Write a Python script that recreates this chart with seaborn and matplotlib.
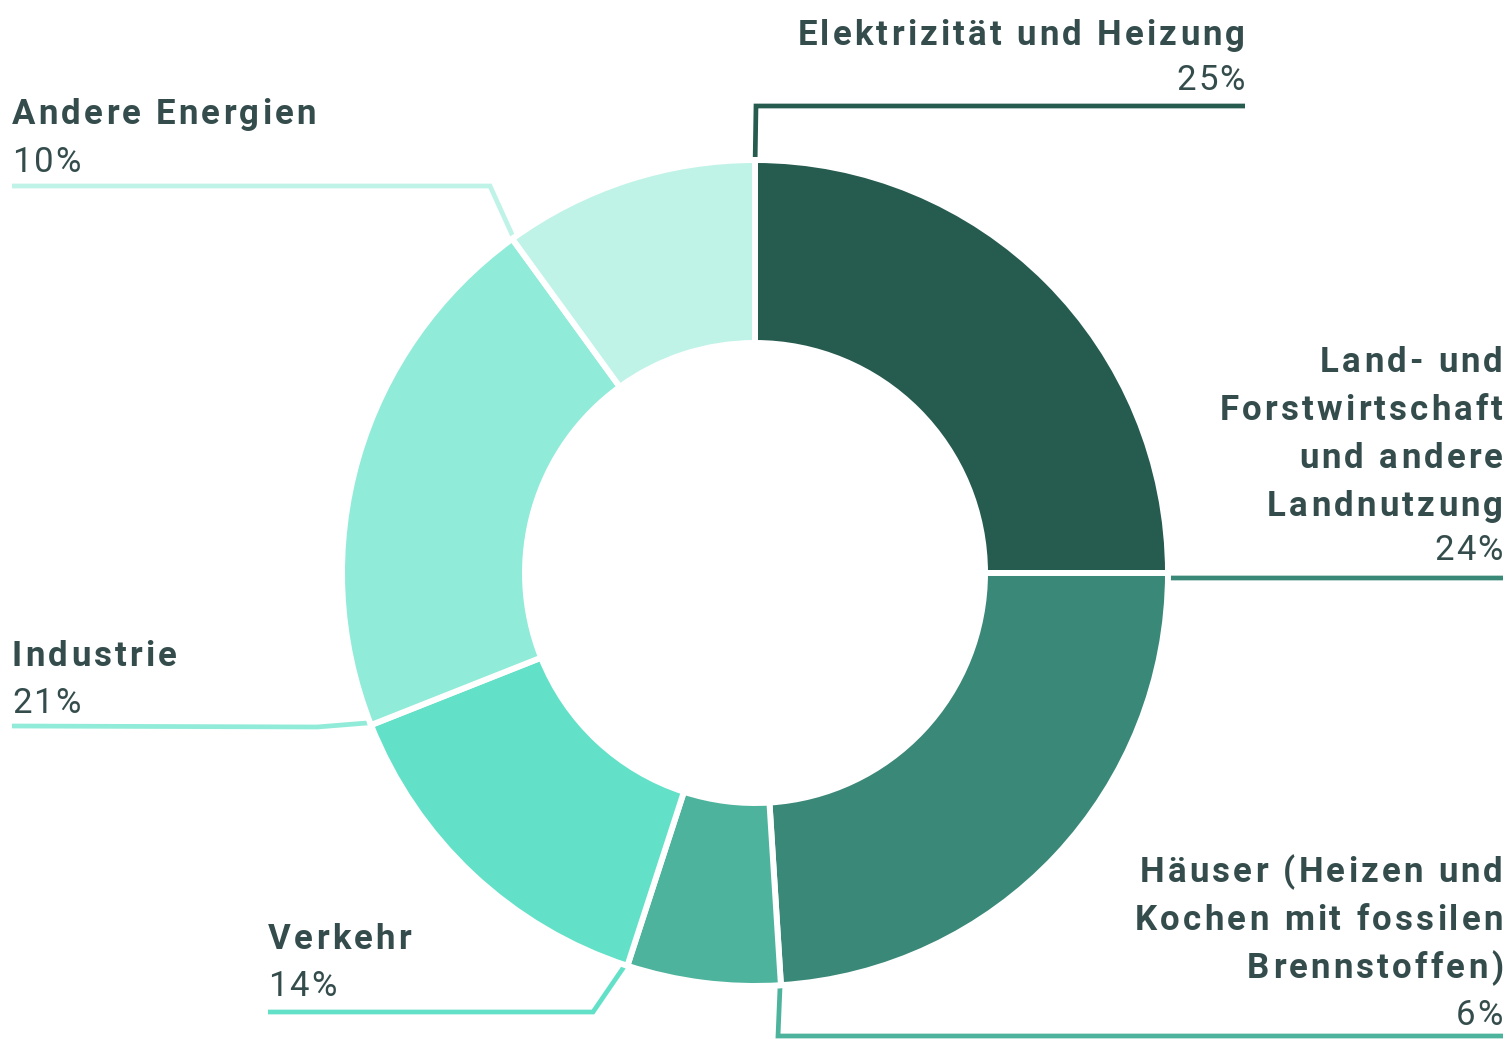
import numpy as np
import matplotlib
matplotlib.use("Agg")
import matplotlib.pyplot as plt
from matplotlib.font_manager import FontProperties
import seaborn as sns

# data, clockwise from the top
categories = [
    "Elektrizität und Heizung",
    "Land- und Forstwirtschaft und andere Landnutzung",
    "Häuser (Heizen und Kochen mit fossilen Brennstoffen)",
    "Verkehr",
    "Industrie",
    "Andere Energien",
]
shares = [25, 24, 6, 14, 21, 10]
pct_labels = ["25%", "24%", "6%", "14%", "21%", "10%"]
label_lines = [
    ["Elektrizität und Heizung"],
    ["Land- und", "Forstwirtschaft", "und andere", "Landnutzung"],
    ["Häuser (Heizen und", "Kochen mit fossilen", "Brennstoffen)"],
    ["Verkehr"],
    ["Industrie"],
    ["Andere Energien"],
]
colors = ["#265B4F", "#3A8878", "#4DB39D", "#63E1C8", "#90EBD8", "#C0F3E7"]

TEXT = "#344D4C"
W, H = 1507, 1039
CX, CY, R_OUT, R_IN = 755, 573, 413, 230
FS = 25

# label layout (pixel coords, y down): x anchor, align, first baseline, pct baseline
label_pos = [
    (1245, "right", 45, 90),
    (1503, "right", 372, 560),
    (1503, "right", 882, 1025),
    (268, "left", 949, 996),
    (12, "left", 666, 713),
    (12, "left", 124, 172),
]
# leader line elbow and end points
leader_pts = [
    [(756, 106), (1245, 106)],
    [(1166, 578), (1503, 578)],
    [(778, 1036), (1503, 1036)],
    [(593, 1012), (268, 1012)],
    [(317, 727), (12, 726)],
    [(490, 186), (12, 186)],
]

sns.set_theme(style="white")
plt.rcParams["font.family"] = ["Roboto", "DejaVu Sans"]
palette = sns.color_palette(colors)

fig = plt.figure(figsize=(W / 100, H / 100), dpi=100)
ax = fig.add_axes([0, 0, 1, 1])
renderer = fig.canvas.get_renderer()


def text_w(s, fp):
    return renderer.get_text_width_height_descent(s, fp, ismath=False)[0]


def spaced_text(x, y, s, ha, weight, track):
    # matplotlib has no letter spacing, so place glyphs one by one
    fp = FontProperties(family=["Roboto", "DejaVu Sans"], size=FS, weight=weight)
    ref = text_w("l", fp)
    offs = [0.0] + [text_w(s[:k] + "l", fp) - ref for k in range(1, len(s))]
    offs = [o + k * track for k, o in enumerate(offs)]
    total = text_w(s, fp) + (len(s) - 1) * track
    x0 = x - total if ha == "right" else x
    for ch, o in zip(s, offs):
        if ch != " ":
            ax.text(x0 + o, y, ch, ha="left", va="baseline", fontproperties=fp,
                    color=TEXT)


ax.pie(
    shares,
    colors=palette,
    startangle=-90,
    counterclock=True,
    center=(CX, CY),
    radius=R_OUT,
    wedgeprops=dict(width=R_OUT - R_IN, edgecolor="white", linewidth=4.3),
)

# leader lines start where each slice starts
cum = np.concatenate([[0], np.cumsum(shares)[:-1]]) / sum(shares)
for i, c in enumerate(cum):
    ang = np.deg2rad(-90 + 360 * c)
    sx = CX + (R_OUT - 8) * np.cos(ang)
    sy = CY + (R_OUT - 8) * np.sin(ang)
    pts = [(sx, sy)] + leader_pts[i]
    xs, ys = zip(*pts)
    ax.plot(xs, ys, color=colors[i], lw=3.4, zorder=0.5,
            solid_joinstyle="miter", solid_capstyle="butt")

for i, lines in enumerate(label_lines):
    x, ha, y0, yp = label_pos[i]
    for j, line in enumerate(lines):
        spaced_text(x, y0 + 48 * j, line, ha, "bold", 3.2)
    spaced_text(x, yp, pct_labels[i], ha, "normal", 2.0)

ax.set_xlim(0, W)
ax.set_ylim(H, 0)
ax.set_aspect("equal")
ax.axis("off")

fig.savefig("out.png", dpi=100)
